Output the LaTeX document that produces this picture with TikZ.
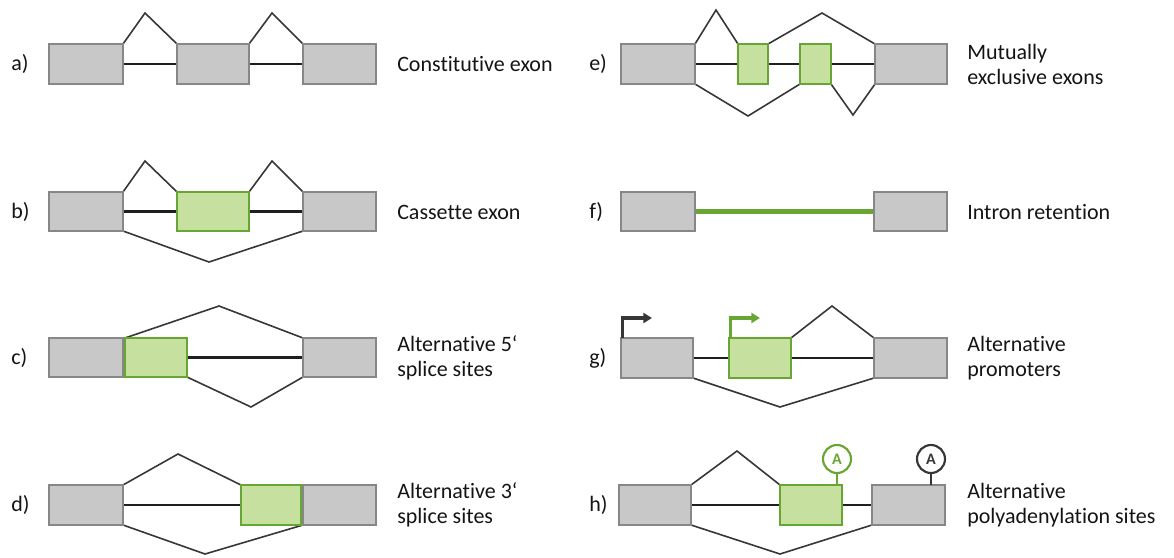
\documentclass[tikz,border=0pt]{standalone}
\usepackage{fontspec}
\setmainfont[Ligatures=NoCommon]{Carlito}
\usetikzlibrary{arrows.meta,backgrounds}
\definecolor{exfill}{RGB}{200,200,200}
\definecolor{exdraw}{RGB}{135,135,135}
\definecolor{gfill}{RGB}{198,224,160}
\definecolor{gdraw}{RGB}{104,166,52}
\definecolor{arcc}{RGB}{55,55,55}
\definecolor{txt}{RGB}{20,20,20}
\newcommand\exn[6]{\node[#1, minimum width={(#4-#3-2)*0.75pt}, minimum height={(#6-#5-2)*0.75pt}] (#2) at ({(#3+#4)/2},{(#5+#6)/2}) {};}
\tikzset{
  gex/.style={rectangle, draw=exdraw, fill=exfill, line width=1.9pt, inner sep=0pt, outer sep=0pt},
  grn/.style={gex, draw=gdraw, fill=gfill},
  intron/.style={line width=2.2pt, black!88},
  retain/.style={line width=3.2pt, gdraw},
  junc/.style={draw=arcc, line width=1.2pt},
  desc/.style={font=\fontsize{16.5}{18.75}\selectfont, text=txt, anchor=west, align=left, inner sep=0pt},
  tag/.style={font=\fontsize{16.5}{18.75}\selectfont, text=txt, anchor=west, inner sep=0pt},
  prom/.style={line width=2.5pt, -{Triangle[length=6.5pt,width=7.5pt]}},
  polyA/.style={circle, line width=1.6pt, minimum size=21pt, inner sep=0pt, font=\fontsize{12}{12}\selectfont\bfseries}
}
\begin{document}
\begin{tikzpicture}[x=0.75pt,y=-0.75pt]
\useasboundingbox (0,0) rectangle (1174,557);
% ---------- a) constitutive exon
\exn{gex}{a1}{48}{124}{43}{85}
\exn{gex}{a2}{176}{250}{43}{85}
\exn{gex}{a3}{302}{377}{43}{85}
\coordinate (ap1) at (145,13);
\coordinate (ap2) at (272,13);
% ---------- b) cassette exon
\exn{gex}{b1}{48}{124}{191}{232}
\exn{grn}{b2}{176}{250}{191}{232}
\exn{gex}{b3}{302}{377}{191}{232}
\coordinate (bp1) at (145,161);
\coordinate (bp2) at (272,161);
\coordinate (bv) at (209,262);
% ---------- c) alternative 5' splice sites
\exn{gex}{c1}{48}{124}{337}{378}
\exn{grn}{c2}{124}{188}{337}{378}
\exn{gex}{c3}{302}{377}{337}{378}
\coordinate (cp) at (219,306);
\coordinate (cv) at (251,407);
% ---------- d) alternative 3' splice sites
\exn{gex}{d1}{48}{124}{484}{526}
\exn{grn}{d2}{240}{302}{484}{526}
\exn{gex}{d3}{302}{377}{484}{526}
\coordinate (dp) at (178,454);
\coordinate (dv) at (205,554);
% ---------- e) mutually exclusive exons
\exn{gex}{e1}{620}{696}{43}{85}
\exn{grn}{e2}{737}{769}{43}{85}
\exn{grn}{e3}{799}{832}{43}{85}
\exn{gex}{e4}{874}{948}{43}{85}
\coordinate (ep1) at (716,10);
\coordinate (ep2) at (822,13);
\coordinate (ev1) at (748,116);
\coordinate (ev2) at (853,115);
% ---------- f) intron retention
\exn{gex}{f1}{620}{696}{191}{232}
\exn{gex}{f2}{873}{948}{191}{232}
% ---------- g) alternative promoters
\exn{gex}{g1}{620}{694}{337}{379}
\exn{grn}{g2}{728}{792}{337}{379}
\exn{gex}{g3}{873}{948}{337}{379}
\coordinate (gp) at (832,306);
\coordinate (gv) at (780,407);
\coordinate (gt1) at (652,318);
\coordinate (gt2) at (760,318);
% ---------- h) alternative polyadenylation sites
\exn{gex}{h1}{618}{692}{484}{526}
\exn{grn}{h2}{779}{843}{484}{526}
\exn{gex}{h3}{871}{946}{484}{526}
\coordinate (hp) at (737,451);
\coordinate (hv) at (780,554);
\node[polyA, draw=gdraw, text=gdraw] (pa1) at (837,459) {A};
\node[polyA, draw=arcc, text=arcc] (pa2) at (931,459) {A};

\begin{scope}[on background layer]
  % a
  \draw[intron] (a1) -- (a2);
  \draw[intron] (a2) -- (a3);
  \draw[junc] (a1.north east) -- (ap1) -- (a2.north west);
  \draw[junc] (a2.north east) -- (ap2) -- (a3.north west);
  % b
  \draw[intron] (b1) -- (b2);
  \draw[intron] (b2) -- (b3);
  \draw[junc] (b1.north east) -- (bp1) -- (b2.north west);
  \draw[junc] (b2.north east) -- (bp2) -- (b3.north west);
  \draw[junc] (b1.south east) -- (bv) -- (b3.south west);
  % c
  \draw[intron] (c2) -- (c3);
  \draw[junc] (c2.north west) -- (cp) -- (c3.north west);
  \draw[junc] (c2.south east) -- (cv) -- (c3.south west);
  % d
  \draw[intron] (d1) -- (d2);
  \draw[junc] (d1.north east) -- (dp) -- (d2.north west);
  \draw[junc] (d1.south east) -- (dv) -- (d3.south west);
  % e
  \draw[intron] (e1) -- (e2);
  \draw[intron] (e2) -- (e3);
  \draw[intron] (e3) -- (e4);
  \draw[junc] (e1.north east) -- (ep1) -- (e2.north west);
  \draw[junc] (e2.north east) -- (ep2) -- (e4.north west);
  \draw[junc] (e1.south east) -- (ev1) -- (e3.south west);
  \draw[junc] (e3.south east) -- (ev2) -- (e4.south west);
  % f
  \draw[retain] (f1) -- (f2);
  % g
  \draw[intron] (g1) -- (g2);
  \draw[intron] (g2) -- (g3);
  \draw[junc] (g2.north east) -- (gp) -- (g3.north west);
  \draw[junc] (g1.south east) -- (gv) -- (g3.south west);
  % h
  \draw[intron] (h1) -- (h2);
  \draw[intron] (h2) -- (h3);
  \draw[junc] (h1.north east) -- (hp) -- (h2.north west);
  \draw[junc] (h1.south east) -- (hv) -- (h3.south west);
\end{scope}
% promoter arrows
\draw[prom, arcc] ([xshift=1pt]g1.north west) |- (gt1);
\draw[prom, gdraw] ([xshift=1pt]g2.north west) |- (gt2);
% polyA stems
\draw[gdraw, line width=1.6pt] (pa1) -- (pa1 |- h2.north);
\draw[arcc, line width=1.6pt] (pa2) -- (pa2 |- h3.north);

% labels
\node[tag] (la) at (11,64) {a)};
\node[tag] (lb) at (11,212) {b)};
\node[tag] (lc) at (11,358) {c)};
\node[tag] (ld) at (11,505) {d)};
\node[tag] (le) at (589,64) {e)};
\node[tag] (lf) at (589,212) {f)};
\node[tag] (lg) at (589,358) {g)};
\node[tag] (lh) at (589,505) {h)};
% descriptions
\node[desc] (ta) at (397,64) {Constitutive exon};
\node[desc] (tb) at (397,212) {Cassette exon};
\node[desc] (tc) at (397,358) {Alternative 5‘\\splice sites};
\node[desc] (td) at (397,505) {Alternative 3‘\\splice sites};
\node[desc] (te) at (967,64) {Mutually\\exclusive exons};
\node[desc] (tf) at (967,212) {Intron retention};
\node[desc] (tg) at (967,358) {Alternative\\promoters};
\node[desc] (th) at (967,505) {Alternative\\polyadenylation sites};
\end{tikzpicture}
\end{document}
